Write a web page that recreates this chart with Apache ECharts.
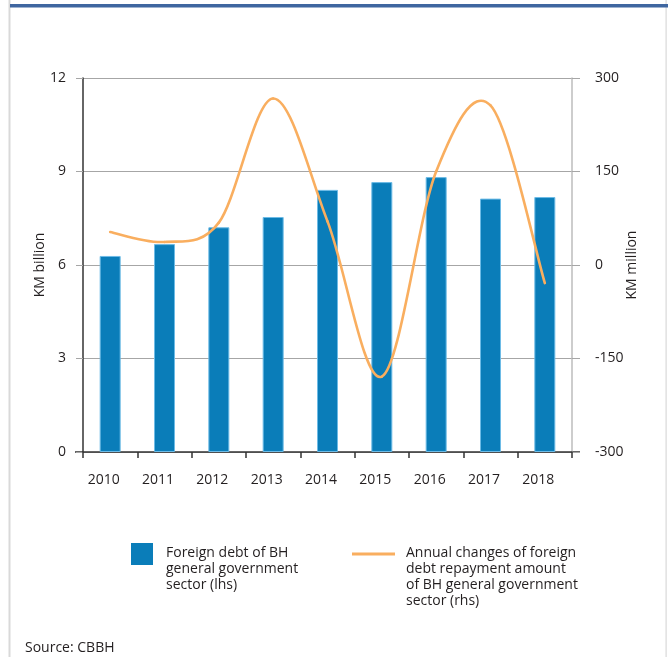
<!DOCTYPE html>
<html>
<head>
<meta charset="utf-8">
<script src="https://cdn.jsdelivr.net/npm/echarts@6/dist/echarts.min.js"></script>
<style>
  html, body { margin: 0; padding: 0; background: #fff; }
  #chart { width: 668px; height: 657px; }
</style>
</head>
<body>
<div id="chart"></div>
<script>
// Years on the category axis
const years = ['2010', '2011', '2012', '2013', '2014', '2015', '2016', '2017', '2018'];
// Foreign debt of BH general government sector, KM billion (left axis)
const foreignDebt = [6.29, 6.67, 7.21, 7.54, 8.41, 8.66, 8.82, 8.13, 8.18];
// Annual changes of foreign debt repayment amount, KM million (right axis)
const repaymentChange = [53, 37, 68, 267, 70, -179, 150, 256, -29];
// Axis tick settings
const leftTicks = { min: 0, max: 12, interval: 3 };
const rightTicks = { min: -300, max: 300, interval: 150 };
// Legend entries
const barLegend = 'Foreign debt of BH\ngeneral government\nsector (lhs)';
const lineLegend = 'Annual changes of foreign\ndebt repayment amount\nof BH general government\nsector (rhs)';

const FONT = '"Open Sans", "Noto Sans", sans-serif';
const TXT = '#231F20';
const BAR = '#0A7DB9';
const LINE = '#F9AE5F';

// Smoothed line: one cubic segment per pair of neighbouring years,
// with Catmull-Rom tangents taken from the surrounding points.
function renderSmoothSegment(params, api) {
  const i = params.dataIndex;
  const n = repaymentChange.length;
  if (i >= n - 1) return null;
  const clampIdx = k => Math.min(Math.max(k, 0), n - 1);
  const pt = k => api.coord([clampIdx(k), repaymentChange[clampIdx(k)]]);
  const p0 = pt(i - 1), p1 = pt(i), p2 = pt(i + 1), p3 = pt(i + 2);
  return {
    type: 'bezierCurve',
    shape: {
      x1: p1[0], y1: p1[1],
      cpx1: p1[0] + (p2[0] - p0[0]) / 6, cpy1: p1[1] + (p2[1] - p0[1]) / 6,
      cpx2: p2[0] - (p3[0] - p1[0]) / 6, cpy2: p2[1] - (p3[1] - p1[1]) / 6,
      x2: p2[0], y2: p2[1]
    },
    style: { stroke: LINE, lineWidth: 2.6, fill: null, lineCap: 'round' }
  };
}

const chart = echarts.init(document.getElementById('chart'), null, { renderer: 'canvas' });

chart.setOption({
  animation: false,
  backgroundColor: '#ffffff',
  textStyle: { fontFamily: FONT, color: TXT },
  grid: { left: 83, right: 96, top: 78, bottom: 205, containLabel: false },
  xAxis: {
    type: 'category',
    data: years,
    boundaryGap: true,
    axisLine: { show: true, lineStyle: { color: '#333333', width: 1.5 } },
    axisTick: { show: true, length: 6, inside: false, alignWithLabel: false, lineStyle: { color: '#333333', width: 1.5 } },
    axisLabel: { margin: 21, fontSize: 14, color: TXT, fontFamily: FONT, padding: [0, 13, 0, 0] },
    splitLine: { show: false }
  },
  yAxis: [
    {
      type: 'value',
      position: 'left',
      min: leftTicks.min, max: leftTicks.max, interval: leftTicks.interval,
      name: 'KM billion',
      nameLocation: 'middle',
      nameGap: 36,
      nameMoveOverlap: false,
      nameTextStyle: { fontSize: 14, color: TXT, fontFamily: FONT },
      axisLine: { show: true, lineStyle: { color: '#333333', width: 1.5 } },
      axisTick: { show: true, length: 7, lineStyle: { color: '#A6A6A6', width: 1 } },
      axisLabel: { margin: 17, fontSize: 14, color: TXT, fontFamily: FONT },
      splitLine: { show: true, lineStyle: { color: '#A6A6A6', width: 1 } }
    },
    {
      type: 'value',
      position: 'right',
      min: rightTicks.min, max: rightTicks.max, interval: rightTicks.interval,
      name: 'KM million',
      nameLocation: 'middle',
      nameGap: 53,
      nameRotate: 90,
      nameMoveOverlap: false,
      nameTextStyle: { fontSize: 14, color: TXT, fontFamily: FONT },
      axisLine: { show: true, lineStyle: { color: '#BDBDBD', width: 1.5 } },
      axisTick: { show: true, length: 8, lineStyle: { color: '#A6A6A6', width: 1 } },
      axisLabel: { margin: 23, fontSize: 14, color: TXT, fontFamily: FONT },
      splitLine: { show: false }
    }
  ],
  series: [
    {
      name: barLegend,
      type: 'bar',
      yAxisIndex: 0,
      data: foreignDebt,
      barWidth: 21,
      itemStyle: { color: BAR, borderColor: '#6DBBE6', borderWidth: 1 },
      z: 2
    },
    {
      name: lineLegend,
      type: 'custom',
      yAxisIndex: 1,
      data: years.map((y, i) => [y, repaymentChange[i]]),
      renderItem: renderSmoothSegment,
      encode: { x: 0, y: 1 },
      silent: true,
      z: 3
    }
  ],
  graphic: [
    // page frame: left rule, right rule, blue header band
    { type: 'rect', shape: { x: 8.5, y: 0, width: 2, height: 657 }, style: { fill: '#D9D9D9' }, silent: true },
    { type: 'rect', shape: { x: 665.5, y: 0, width: 1.2, height: 657 }, style: { fill: '#D9D9D9' }, silent: true },
    { type: 'rect', shape: { x: 10, y: 4, width: 658, height: 3.5 }, style: { fill: '#3F66A0' }, silent: true },
    // zero-level extensions of the category axis past both value axes
    { type: 'line', shape: { x1: 75, y1: 452, x2: 83, y2: 452 }, style: { stroke: '#333333', lineWidth: 1.5 }, silent: true },
    { type: 'line', shape: { x1: 572, y1: 452, x2: 580, y2: 452 }, style: { stroke: '#333333', lineWidth: 1.5 }, silent: true },
    // legend: bar swatch + text
    { type: 'rect', shape: { x: 131, y: 543, width: 22, height: 22 }, style: { fill: BAR }, silent: true },
    { type: 'text', left: 166, top: 545, style: { text: barLegend, fontSize: 14, lineHeight: 16, fontFamily: FONT, fill: TXT }, silent: true },
    // legend: line swatch + text
    { type: 'line', shape: { x1: 352, y1: 554, x2: 395, y2: 554 }, style: { stroke: LINE, lineWidth: 3 }, silent: true },
    { type: 'text', left: 406, top: 545, style: { text: lineLegend, fontSize: 14, lineHeight: 16, fontFamily: FONT, fill: TXT }, silent: true },
    // source note
    { type: 'text', left: 25, top: 641, style: { text: 'Source: CBBH', fontSize: 14, fontFamily: FONT, fill: TXT }, silent: true }
  ]
});
</script>
</body>
</html>
